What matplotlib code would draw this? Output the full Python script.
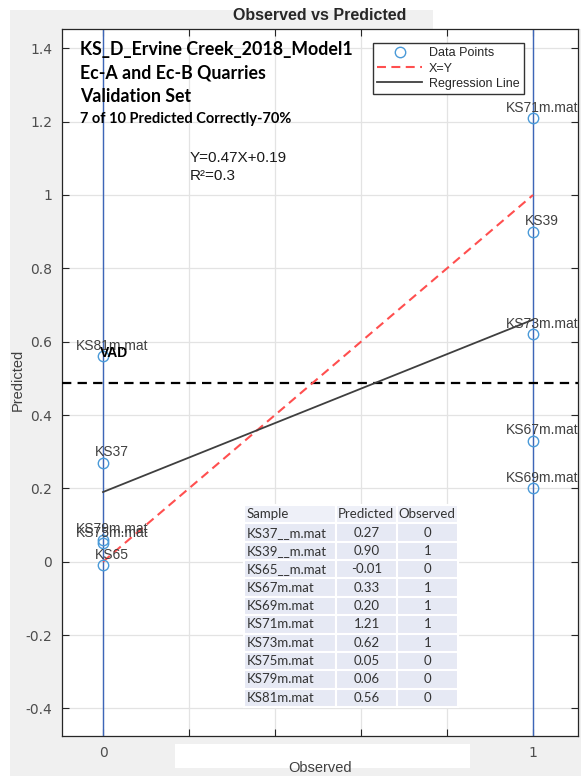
import matplotlib
matplotlib.use("Agg")
import matplotlib.pyplot as plt
from matplotlib.patches import Rectangle
import numpy as np

# ---------------- data ----------------
samples = ["KS37__m.mat", "KS39__m.mat", "KS65__m.mat", "KS67m.mat", "KS69m.mat",
           "KS71m.mat", "KS73m.mat", "KS75m.mat", "KS79m.mat", "KS81m.mat"]
point_labels = ["KS37", "KS39", "KS65", "KS67m.mat", "KS69m.mat",
                "KS71m.mat", "KS73m.mat", "KS75m.mat", "KS79m.mat", "KS81m.mat"]
predicted = [0.27, 0.90, -0.01, 0.33, 0.20, 1.21, 0.62, 0.05, 0.06, 0.56]
observed = [0, 1, 0, 1, 1, 1, 1, 0, 0, 0]
slope = 0.47
intercept = 0.19
threshold = 0.488
xy_line = [0, 1]
y_ticks = [-0.4, -0.2, 0, 0.2, 0.4, 0.6, 0.8, 1, 1.2, 1.4]
y_ticklabels = ["-0.4", "-0.2", "0", "0.2", "0.4", "0.6", "0.8", "1", "1.2", "1.4"]
x_ticks = [0, 0.2, 0.4, 0.6, 0.8, 1]
x_ticklabels = ["0", "", "", "", "", "1"]

W, H = 581, 776
fig = plt.figure(figsize=(W / 100, H / 100), dpi=100)
fig.patch.set_facecolor("white")

def fx(px):
    return px / W

def fy(py):
    return 1 - py / H

gray = "#f0f0f0"
# background panels
fig.patches.append(Rectangle((fx(10), 0), fx(W) - fx(10), fy(29), transform=fig.transFigure,
                             facecolor=gray, edgecolor="none", zorder=-10))
fig.patches.append(Rectangle((fx(10), fy(29)), fx(433) - fx(10), fy(10) - fy(29),
                             transform=fig.transFigure, facecolor=gray, edgecolor="none", zorder=-10))
fig.patches.append(Rectangle((fx(175), fy(768)), fx(470) - fx(175), fy(744) - fy(768),
                             transform=fig.transFigure, facecolor="white", edgecolor="none", zorder=-9))

ax_l, ax_r, ax_t, ax_b = 62, 578, 29, 736
ax = fig.add_axes([fx(ax_l), fy(ax_b), fx(ax_r) - fx(ax_l), fy(ax_t) - fy(ax_b)])
ax.set_facecolor("white")

x0p, x1p = 103, 533
y0p, yppu = 561.7, 366.7
ax.set_xlim((ax_l - x0p) / (x1p - x0p), (ax_r - x0p) / (x1p - x0p))
ax.set_ylim((y0p - ax_b) / yppu, (y0p - ax_t) / yppu)

ax.set_xticks(x_ticks)
ax.set_xticklabels(x_ticklabels)
ax.set_yticks(y_ticks)
ax.set_yticklabels(y_ticklabels)
ax.tick_params(direction="in", length=5, width=0.8, color="#262626", labelcolor="#4d4d4d",
               labelsize=10, top=True, right=True, pad=7)
ax.grid(True, color="#e3e3e3", linewidth=0.9)
ax.set_axisbelow(True)
for s in ax.spines.values():
    s.set_color("#262626")
    s.set_linewidth(0.9)

# vertical blue lines at observed classes
for xv in [0, 1]:
    ax.axvline(xv, color="#3d66b8", linewidth=1.0, zorder=2)

# threshold line
ax.axhline(threshold, color="black", linewidth=1.6, linestyle=(0, (4.2, 2.8)), zorder=3)

# X=Y line
ax.plot(xy_line, xy_line, color="#ff4f4f", linewidth=1.5, linestyle=(0, (4.3, 2.6)),
        label="X=Y", zorder=4)
# regression line
xr = np.array([0, 1])
ax.plot(xr, slope * xr + intercept, color="#3f3f3f", linewidth=1.3, label="Regression Line", zorder=4)

# data points
ax.plot(observed, predicted, linestyle="none", marker="o", markersize=7.5, markerfacecolor="none",
        markeredgecolor="#4a9ad8", markeredgewidth=1.0, label="Data Points", zorder=5)

# point labels
for xo, yp, lab in zip(observed, predicted, point_labels):
    ax.text(xo + 0.021, yp + 0.028, lab, ha="center", va="center", fontsize=10,
            color="#404040", family="Liberation Sans", zorder=6, clip_on=True)

ax.text(-0.007, 0.569, "VAD", ha="left", va="center", fontsize=10, fontweight="bold",
        color="black", family="Liberation Sans", zorder=6)

# header annotation
hdr_x = (80 - x0p) / (x1p - x0p)
for txt, py, fs in [("KS_D_Ervine Creek_2018_Model1", 49, 12.8),
                    ("Ec-A and Ec-B Quarries", 73, 12.8),
                    ("Validation Set", 96, 12.8)]:
    ax.text(hdr_x, (y0p - py) / yppu, txt, ha="left", va="center", fontsize=fs,
            fontweight="bold", color="black", family="Lato", zorder=6)
ax.text(hdr_x, (y0p - 119) / yppu, "7 of 10 Predicted Correctly-70%", ha="left", va="center",
        fontsize=10.5, fontweight="bold", color="black", family="Lato", zorder=6)

eq_x = (190 - x0p) / (x1p - x0p)
ax.text(eq_x, (y0p - 158) / yppu, "Y=%.2fX+%.2f" % (slope, intercept), ha="left", va="center",
        fontsize=11, color="#1a1a1a", family="Liberation Sans", zorder=6)
ax.text(eq_x, (y0p - 176) / yppu, "R\u00b2=0.3", ha="left", va="center",
        fontsize=11, color="#1a1a1a", family="Liberation Sans", zorder=6)

# legend
h, l = ax.get_legend_handles_labels()
order = [2, 0, 1]
leg = ax.legend([h[i] for i in order], [l[i] for i in order], loc="upper left",
                bbox_to_anchor=(fx(373), fy(43)), bbox_transform=fig.transFigure,
                borderaxespad=0, handlelength=3.6, labelspacing=0.25,
                borderpad=0.35, handletextpad=0.5, fancybox=False, framealpha=1,
                edgecolor="#333333", prop={"family": "Liberation Sans", "size": 9})
leg.get_frame().set_linewidth(1.0)
for t in leg.get_texts():
    t.set_color("#262626")

# table
cell_text = [["Sample", "Predicted", "Observed"]] + \
            [[s, "%.2f" % p, "%d" % o] for s, p, o in zip(samples, predicted, observed)]
tb_l, tb_r, tb_t, tb_b = 244, 458, 505, 707
axw, axh = ax_r - ax_l, ax_b - ax_t
bbox = [(tb_l - ax_l) / axw, (ax_b - tb_b) / axh, (tb_r - tb_l) / axw, (tb_b - tb_t) / axh]
tbl = ax.table(cellText=cell_text, bbox=bbox, colWidths=[0.43, 0.285, 0.285], zorder=7)
tbl.auto_set_font_size(False)
for (r, c), cell in tbl.get_celld().items():
    cell.set_edgecolor("white")
    cell.set_linewidth(1.5)
    cell.set_facecolor("#eef0f8" if r == 0 else "#e6e9f4")
    cell.get_text().set_fontsize(9.5)
    cell.get_text().set_family("Lato")
    cell.get_text().set_color("#333333")
    if c == 0 or r == 0:
        cell.get_text().set_ha("left")
        cell.PAD = 0.03
    else:
        cell.get_text().set_ha("center")

# titles and labels
fig.text(fx(320), fy(16), "Observed vs Predicted", ha="center", va="center", fontsize=11.5,
         fontweight="bold", color="#262626", family="Liberation Sans")
fig.text(fx(320), fy(768), "Observed", ha="center", va="center", fontsize=10.5,
         color="#404040", family="Liberation Sans")
fig.text(fx(18), fy(380), "Predicted", ha="center", va="center", fontsize=10.5,
         rotation=90, color="#404040", family="Liberation Sans")

fig.savefig("out.png", dpi=100, facecolor=fig.get_facecolor())
